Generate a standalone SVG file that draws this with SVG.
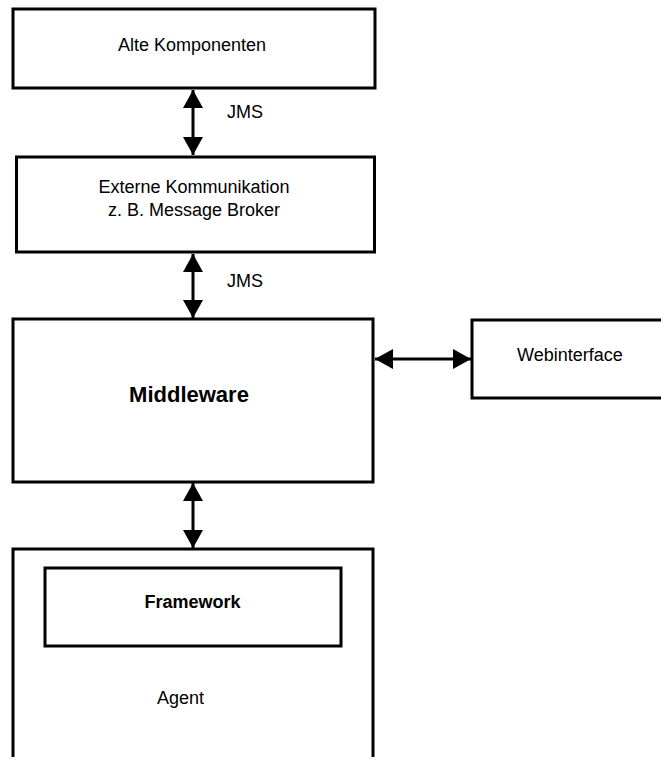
<svg xmlns="http://www.w3.org/2000/svg" width="661" height="757" viewBox="0 0 661 757">
<style>
.box{fill:#fff;stroke:#000;stroke-width:3}
.t{font-family:"Liberation Sans",Arial,sans-serif;font-size:18px;fill:#000}
.b{font-weight:bold}
.c{text-anchor:middle}
.conn line{stroke:#000;stroke-width:3}
</style>
<defs>
<marker id="ah" viewBox="0 0 18 20" refX="18" refY="10" markerWidth="18" markerHeight="20" markerUnits="userSpaceOnUse" orient="auto-start-reverse">
<path d="M0,0 L18,10 L0,20 z" fill="#000"/>
</marker>
</defs>
<rect width="661" height="757" fill="#fff"/>
<g id="alte">
<rect class="box" x="13" y="9" width="362" height="79"/>
<text class="t c" x="192" y="51">Alte Komponenten</text>
</g>
<g id="extern">
<rect class="box" x="16.5" y="157" width="358" height="95"/>
<text class="t c" x="194" y="193">Externe Kommunikation</text>
<text class="t c" x="194" y="216">z. B. Message Broker</text>
</g>
<g id="middleware">
<rect class="box" x="13" y="319" width="360" height="163"/>
<text class="t b c" x="189" y="402" style="font-size:22px">Middleware</text>
</g>
<g id="web">
<rect class="box" x="472" y="320" width="200" height="78"/>
<text class="t" x="517" y="361">Webinterface</text>
</g>
<g id="agent">
<rect class="box" x="13" y="549" width="360" height="230"/>
<text class="t" x="157" y="704">Agent</text>
</g>
<g id="framework">
<rect class="box" x="45" y="568" width="296" height="78"/>
<text class="t b c" x="192.5" y="608">Framework</text>
</g>
<g class="conn" id="connectors">
<line x1="193" y1="90" x2="193" y2="155" marker-start="url(#ah)" marker-end="url(#ah)"/>
<line x1="193" y1="254" x2="193" y2="318" marker-start="url(#ah)" marker-end="url(#ah)"/>
<line x1="193" y1="483" x2="193" y2="548" marker-start="url(#ah)" marker-end="url(#ah)"/>
<line x1="375" y1="359" x2="471" y2="359" marker-start="url(#ah)" marker-end="url(#ah)"/>
<text class="t" x="227" y="118">JMS</text>
<text class="t" x="227" y="287">JMS</text>
</g>
</svg>
